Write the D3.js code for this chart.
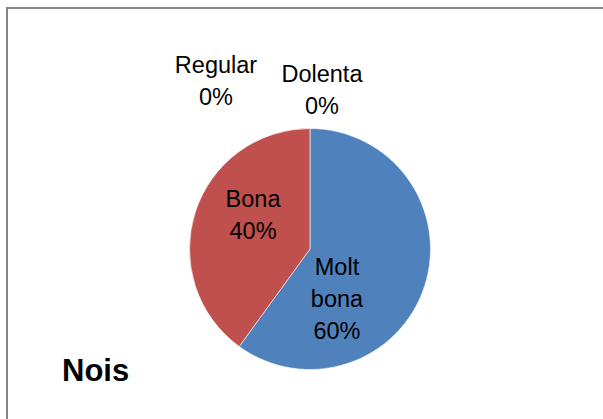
<!DOCTYPE html>
<html>
<head>
<meta charset="utf-8">
<script src="https://cdn.jsdelivr.net/npm/d3@7"></script>
<style>
  body { margin: 0; background: #fff; }
  svg text { font-family: "Liberation Sans", Arial, sans-serif; fill: #000; }
</style>
</head>
<body>
<svg id="chart" width="603" height="419"></svg>
<script>
// chart data
var categories = ["Molt bona", "Bona", "Regular", "Dolenta"];
var values = [60, 40, 0, 0];
var colors = ["#4F81BD", "#C0504D", "#9BBB59", "#8064A2"];
var title = "Nois";

// where each data label sits: angle (deg, clockwise from top) and distance from centre
var labelLayout = {
   "Molt bona": {angle: 134, dist: 37.5, lines: ["Molt", "bona"]},
   "Bona": {angle: 306.4, dist: 70.8, lines: ["Bona"]},
   "Regular": {angle: 331.9, dist: 199.6, lines: ["Regular"]},
   "Dolenta": {angle: 4.1, dist: 167.4, lines: ["Dolenta"]}
};

var svg = d3.select("#chart"),
   cx = 310, cy = 249, radius = 120.5,
   lineH = 32;

// chart area frame (runs off the right and bottom of the picture)
svg.append("rect")
   .attr("x", 7).attr("y", 8)
   .attr("width", 700).attr("height", 500)
   .attr("fill", "none")
   .attr("stroke", "#868686")
   .attr("stroke-width", 2);

var data = categories.map(function (c, i) {
   return {name: c, value: values[i], color: colors[i]};
});
var total = d3.sum(values);

var pie = d3.pie()
   .sort(null)
   .value(function (d) { return d.value; });

var arc = d3.arc()
   .innerRadius(0)
   .outerRadius(radius);

var g = svg.append("g")
   .attr("transform", "translate(" + cx + "," + cy + ")");

var arcs = pie(data);

g.selectAll("path.slice")
   .data(arcs.filter(function (d) { return d.data.value > 0; }))
   .enter().append("path")
   .attr("class", "slice")
   .attr("d", arc)
   .attr("fill", function (d) { return d.data.color; })
   .attr("stroke", "#ffffff")
   .attr("stroke-width", 0.6);

// data labels
var fmt = d3.format(".0%");
arcs.forEach(function (d) {
   var lay = labelLayout[d.data.name];
   var p = d3.pointRadial(lay.angle * Math.PI / 180, lay.dist);
   var lines = lay.lines.concat([fmt(d.data.value / total)]);
   var t = g.append("text")
      .attr("text-anchor", "middle")
      .attr("font-size", "23.5px");
   lines.forEach(function (s, i) {
      t.append("tspan")
         .attr("x", p[0])
         .attr("y", p[1] + i * lineH)
         .text(s);
   });
});

// chart title
svg.append("text")
   .attr("x", 62)
   .attr("y", 381)
   .attr("font-size", "31px")
   .attr("font-weight", "bold")
   .text(title);
</script>
</body>
</html>
